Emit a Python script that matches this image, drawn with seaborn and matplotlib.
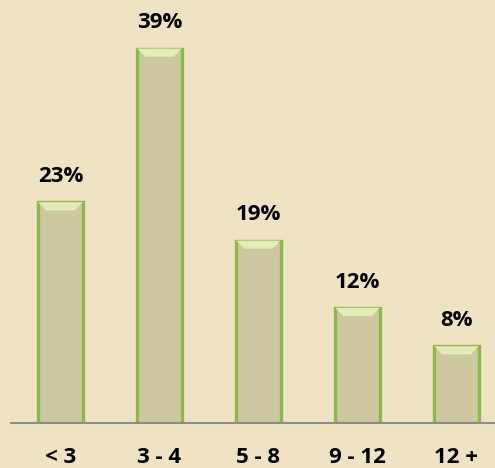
"""
Bar chart: share by group, percent labels
"""

import matplotlib.pyplot as plt
import pandas as pd
import seaborn as sns
from matplotlib.patches import Polygon

categories = ["< 3", "3 - 4", "5 - 8", "9 - 12", "12 +"]
shares = [23, 39, 19, 12, 8]

BG = "#EFE3C4"
BAR_FACE = "#CEC8A0"
BAR_EDGE = "#8DB94C"
BEVEL = "#E4EDB8"

sns.set_style("white")
plt.rcParams["font.family"] = ["Open Sans", "DejaVu Sans"]

df = pd.DataFrame({"group": categories, "share": shares})

fig = plt.figure(figsize=(4.95, 4.68), dpi=100, facecolor=BG)
ax = fig.add_axes([11 / 495, 45 / 468, 484 / 495, 423 / 468])
ax.set_facecolor(BG)

sns.barplot(
    data=df,
    x="group",
    y="share",
    color=BAR_FACE,
    saturation=1,
    width=0.45,
    edgecolor=BAR_EDGE,
    linewidth=2.4,
    ax=ax,
)

# light bevel at the top of each bar
for patch in ax.patches:
    x0, w, top = patch.get_x(), patch.get_width(), patch.get_height()
    inset = w * 0.18
    depth = 0.85
    ax.add_patch(
        Polygon(
            [(x0, top), (x0 + w, top), (x0 + w - inset, top - depth), (x0 + inset, top - depth)],
            closed=True,
            facecolor=BEVEL,
            edgecolor="none",
            zorder=patch.get_zorder() + 0.1,
        )
    )

ax.bar_label(
    ax.containers[0],
    labels=[f"{v}%" for v in shares],
    padding=11,
    fontsize=16,
    fontweight="bold",
    color="black",
)

ax.set_xlim(-0.5, 484 / 99 - 0.5)
ax.set_ylim(0, 44.06)
ax.set_xlabel("")
ax.set_ylabel("")
ax.set_yticks([])
ax.tick_params(axis="x", length=0, pad=17, colors="black")
for lbl in ax.get_xticklabels():
    lbl.set_fontsize(16)
    lbl.set_fontweight("bold")

for side in ["top", "left", "right"]:
    ax.spines[side].set_visible(False)
ax.spines["bottom"].set_color("#8C8C8C")
ax.spines["bottom"].set_linewidth(1.5)

plt.savefig("out.png", dpi=100, facecolor=BG)
